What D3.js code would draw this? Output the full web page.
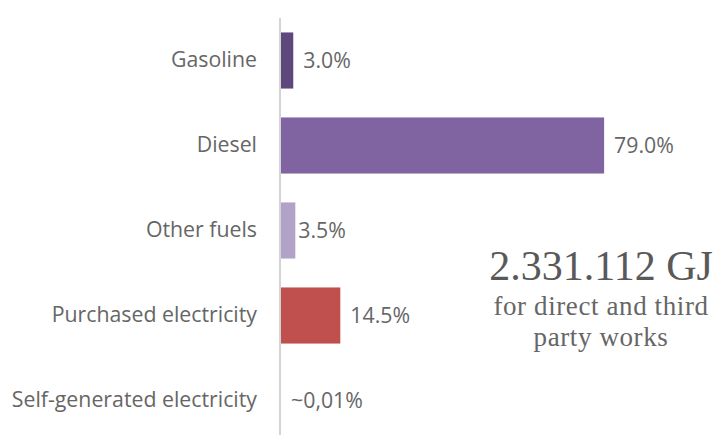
<!DOCTYPE html>
<html>
<head>
<meta charset="utf-8">
<script src="https://cdn.jsdelivr.net/npm/d3@7"></script>
<style>
  html, body { margin: 0; padding: 0; background: #fff; }
  svg { display: block; }
</style>
</head>
<body>
<svg id="chart" width="717" height="435"></svg>
<script>
// Energy consumption breakdown by source
const categories = ["Gasoline", "Diesel", "Other fuels", "Purchased electricity", "Self-generated electricity"];
const shares = [3.0, 79.0, 3.5, 14.5, 0.01];
const valueLabels = ["3.0%", "79.0%", "3.5%", "14.5%", "~0,01%"];
const barColors = ["#5d477d", "#8064a2", "#b3a2c7", "#c0504d", "#9bbb59"];
const totalLabel = "2.331.112 GJ";
const totalNote = ["for direct and third", "party works"];

const svg = d3.select("#chart");
const margin = { top: 18, left: 280 };
const labelFont = "'Open Sans', sans-serif";
const labelSize = 21.3;

const x = d3.scaleLinear().domain([0, 100]).range([margin.left + 1, margin.left + 1 + 409]);
const y = d3.scaleBand().domain(categories).range([18, 443]).paddingInner(0.34).paddingOuter(0.17);

// Bars
svg.append("g").selectAll("rect")
  .data(categories)
  .join("rect")
  .attr("x", x(0))
  .attr("y", d => y(d))
  .attr("width", (d, i) => x(shares[i]) - x(0))
  .attr("height", y.bandwidth())
  .attr("fill", (d, i) => barColors[i]);

// Category axis (left)
const axis = svg.append("g")
  .attr("transform", `translate(${margin.left},0)`)
  .call(d3.axisLeft(y).tickSize(0).tickPadding(23));
axis.select(".domain").remove();
axis.append("line")
  .attr("x1", 0).attr("x2", 0)
  .attr("y1", 18).attr("y2", 435)
  .attr("stroke", "#d4d4d4").attr("stroke-width", 2);
axis.selectAll(".tick text")
  .attr("font-family", labelFont)
  .attr("font-size", labelSize)
  .attr("fill", "#666666");

// Value labels
svg.append("g").selectAll("text")
  .data(categories)
  .join("text")
  .attr("x", (d, i) => x(shares[i]) + (i === 2 ? 3 : 10))
  .attr("y", d => y(d) + y.bandwidth() / 2)
  .attr("dy", "0.35em")
  .attr("font-family", labelFont)
  .attr("font-size", labelSize)
  .attr("fill", "#666666")
  .text((d, i) => valueLabels[i]);

// Total annotation
const cx = 601;
svg.append("text")
  .attr("x", cx).attr("y", 280)
  .attr("text-anchor", "middle")
  .attr("font-family", "'Liberation Serif', serif")
  .attr("font-size", 42)
  .attr("fill", "#595959")
  .text(totalLabel);
svg.append("g").selectAll("text")
  .data(totalNote)
  .join("text")
  .attr("x", cx)
  .attr("y", (d, i) => 315 + i * 31)
  .attr("text-anchor", "middle")
  .attr("font-family", "'Liberation Serif', serif")
  .attr("font-size", 27)
  .attr("letter-spacing", 0.6)
  .attr("fill", "#666666")
  .text(d => d);
</script>
</body>
</html>
